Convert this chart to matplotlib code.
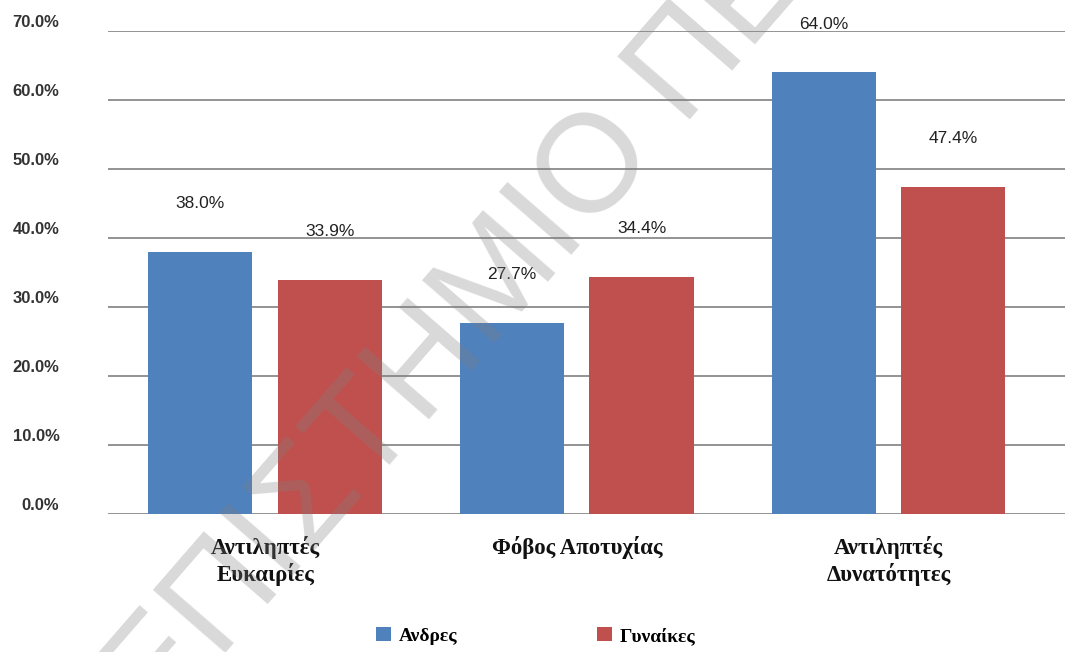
import numpy as np
import matplotlib.pyplot as plt
import matplotlib.transforms as mtransforms

categories = ['Αντιληπτές\nΕυκαιρίες', 'Φόβος Αποτυχίας', 'Αντιληπτές\nΔυνατότητες']
men = [38.0, 27.7, 64.0]
women = [33.9, 34.4, 47.4]
series_names = ['Ανδρες', 'Γυναίκες']
yticks = [0, 10, 20, 30, 40, 50, 60, 70]

blue = '#4F81BD'
red = '#C0504D'

fig = plt.figure(figsize=(10.65, 6.52), dpi=100)
ax = fig.add_axes([0.1014, 0.2117, 0.8986, 0.7408])

x = np.arange(len(categories))
w = 0.334
b1 = ax.bar(x - 0.209, men, w, color=blue, label=series_names[0], zorder=3)
b2 = ax.bar(x + 0.207, women, w, color=red, label=series_names[1], zorder=3)

# value labels sit well above the bars, like in the original
for xs, vals in [(x - 0.209, men), (x + 0.207, women)]:
    for xi, v in zip(xs, vals):
        ax.text(xi, v + 7.0, '%.1f%%' % v, ha='center', va='center', zorder=4,
                family=['Liberation Sans', 'DejaVu Sans'], size=12.5, color='#222222')

ax.set_xlim(-0.504, 2.565)
ax.set_ylim(0, 70)
ax.set_yticks(yticks)
ax.set_yticklabels(['%.1f%%' % t for t in yticks],
                   fontfamily=['Liberation Sans', 'DejaVu Sans'],
                   fontsize=12, fontweight='bold', color='#333333')
ax.tick_params(axis='y', length=0, pad=35)
offset = mtransforms.ScaledTranslation(0, 10 / 100, fig.dpi_scale_trans)
for lab in ax.get_yticklabels():
    lab.set_transform(lab.get_transform() + offset)

ax.set_xticks(x)
ax.set_xticklabels(categories, fontfamily=['Liberation Serif', 'DejaVu Serif'],
                   fontsize=16.5, fontweight='bold', linespacing=1.2, color='#111111')
ax.tick_params(axis='x', length=0, pad=16)

ax.yaxis.grid(True, color='#8a8a8a', linewidth=1.3, zorder=0)
ax.set_axisbelow(True)
for s in ax.spines.values():
    s.set_visible(False)

fig.legend(handles=[b1, b2], labels=series_names, loc='center',
           bbox_to_anchor=(0.503, 0.0245), ncol=2, frameon=False,
           handlelength=0.75, handleheight=0.75, handletextpad=0.4, columnspacing=7.2,
           prop=dict(family=['Liberation Serif', 'DejaVu Serif'], size=14, weight='bold'))

# watermark across the chart
wm = dict(rotation=49, rotation_mode='anchor', va='baseline', fontsize=100,
          fontfamily=['Liberation Sans', 'DejaVu Sans'], color='#808080', alpha=0.3, zorder=10)
fig.text(0.616, 0.778, 'ΠΑΝΕΠΙΣΤΗΜΙΟ', ha='right', **wm)
fig.text(0.6376, 0.8175, 'ΠΕΛΟΠΟΝΝΗΣΟΥ', ha='left', **wm)

fig.savefig('out.png', dpi=100)
